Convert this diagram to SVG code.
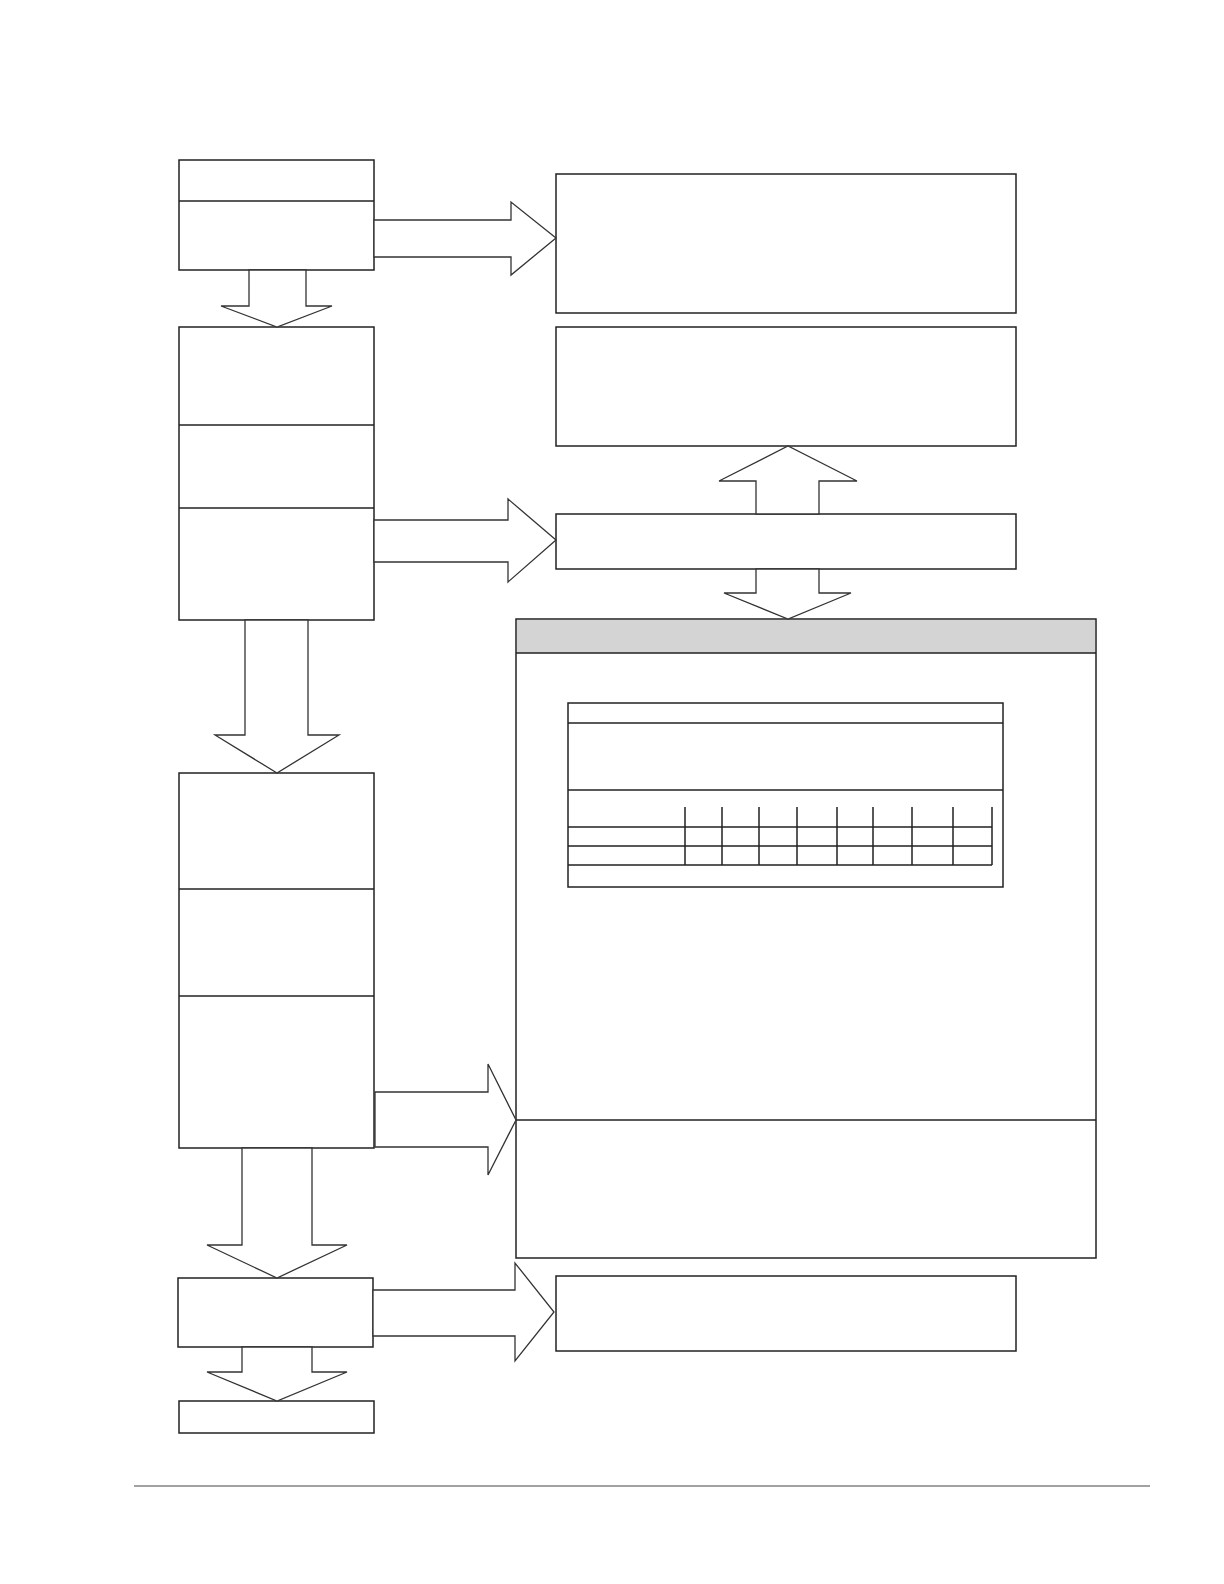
<svg xmlns="http://www.w3.org/2000/svg" width="1224" height="1584" viewBox="0 0 1224 1584">
<style>
.b{fill:#fff;stroke:#222;stroke-width:1.5}
.l{stroke:#222;stroke-width:1.5;fill:none}
.a{fill:#fff;stroke:#333;stroke-width:1.3}
</style>
<rect width="1224" height="1584" fill="#fff"/>
<g id="n1"><rect class="b" x="179" y="160" width="195" height="110"/><line class="l" x1="179" y1="201" x2="374" y2="201"/></g>
<g id="n2"><rect class="b" x="179" y="327" width="195" height="293"/><line class="l" x1="179" y1="425" x2="374" y2="425"/><line class="l" x1="179" y1="508" x2="374" y2="508"/></g>
<g id="n3"><rect class="b" x="179" y="773" width="195" height="375"/><line class="l" x1="179" y1="889" x2="374" y2="889"/><line class="l" x1="179" y1="996" x2="374" y2="996"/></g>
<g id="n4"><rect class="b" x="178" y="1278" width="195" height="69"/></g>
<g id="n5"><rect class="b" x="179" y="1401" width="195" height="32"/></g>
<g id="r1"><rect class="b" x="556" y="174" width="460" height="139"/></g>
<g id="r2"><rect class="b" x="556" y="327" width="460" height="119"/></g>
<g id="r3"><rect class="b" x="556" y="514" width="460" height="55"/></g>
<g id="r4"><rect class="b" x="516" y="619" width="580" height="639"/><rect x="517" y="620" width="578" height="33" fill="#d4d4d4"/><line class="l" x1="516" y1="653" x2="1096" y2="653"/><line class="l" x1="516" y1="1120" x2="1096" y2="1120"/>
<g id="table"><rect class="b" x="568" y="703" width="435" height="184"/><line class="l" x1="568" y1="723" x2="1003" y2="723"/><line class="l" x1="568" y1="790" x2="1003" y2="790"/>
<path class="l" d="M568 827H992M568 846H992M568 865H992M685 807V865M722 807V865M759 807V865M797 807V865M837 807V865M873 807V865M912 807V865M953 807V865M992 807V865"/></g></g>
<g id="r5"><rect class="b" x="556" y="1276" width="460" height="75"/></g>
<g id="connectors">
<polygon class="a" points="374,220 511,220 511,202 556,238 511,275 511,257 374,257"/>
<polygon class="a" points="249,270 306,270 306,306 332,306 277,327 221,306 249,306"/>
<polygon class="a" points="374,520 508,520 508,499 556,540 508,582 508,562 374,562"/>
<polygon class="a" points="756,514 756,481 719,481 788,446 857,481 819,481 819,514"/>
<polygon class="a" points="756,569 756,593 724,593 788,619 851,593 819,593 819,569"/>
<polygon class="a" points="245,620 308,620 308,735 339,735 277,773 215,735 245,735"/>
<polygon class="a" points="375,1092 488,1092 488,1064 516,1120 488,1175 488,1147 375,1147"/>
<polygon class="a" points="242,1148 312,1148 312,1245 347,1245 277,1278 207,1245 242,1245"/>
<polygon class="a" points="373,1290 515,1290 515,1263 554,1312 515,1361 515,1336 373,1336"/>
<polygon class="a" points="242,1347 312,1347 312,1372 347,1372 277,1401 207,1372 242,1372"/>
</g>
<line x1="134" y1="1486" x2="1150" y2="1486" stroke="#444" stroke-width="1"/>
</svg>
